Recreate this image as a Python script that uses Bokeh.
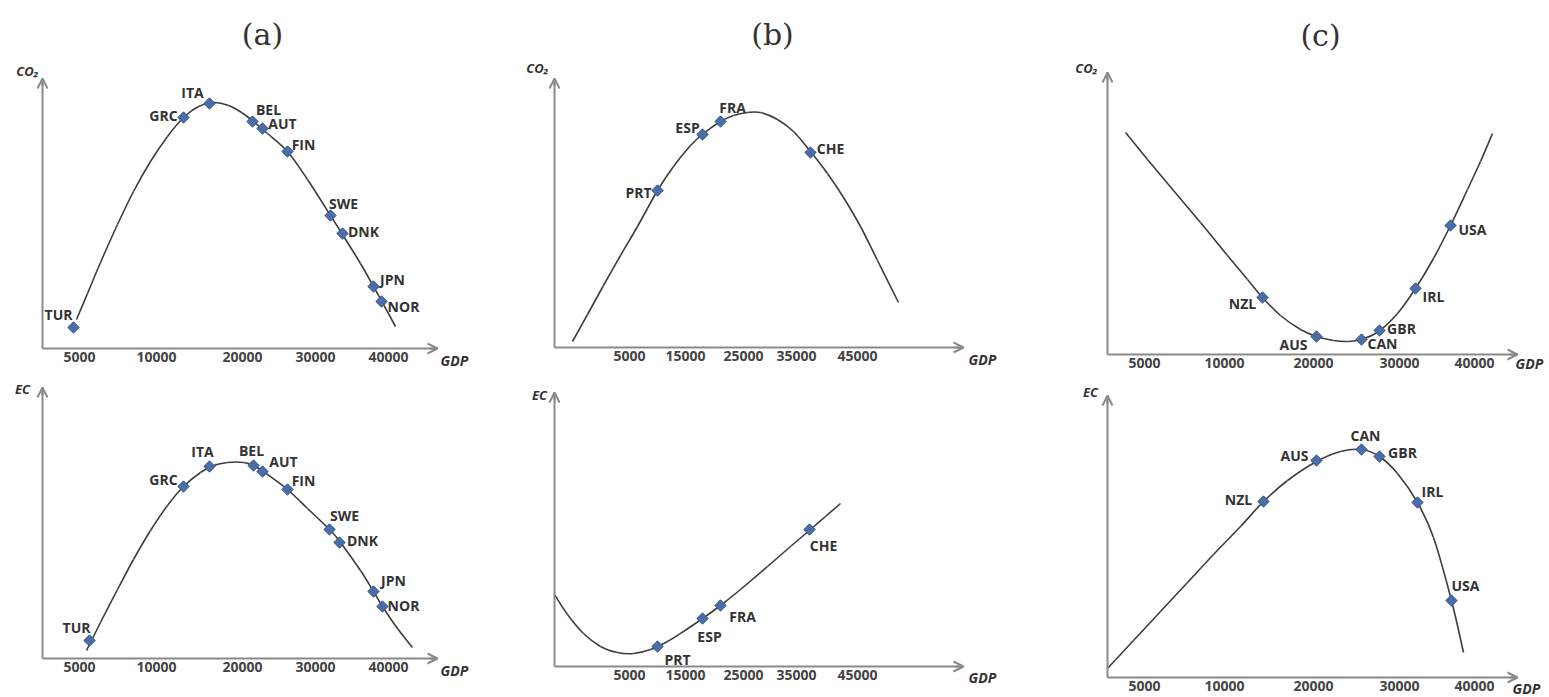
import math
from bokeh.plotting import figure
from bokeh.layouts import row, column
from bokeh.models import Range1d, FixedTicker, Label, Arrow, OpenHead, ColumnDataSource
from bokeh.core.properties import value
from bokeh.embed import file_html
from bokeh.resources import INLINE

# ---------------- DATA (schematic axis units) ----------------
# Panel (a)
a_countries = ["TUR", "GRC", "ITA", "BEL", "AUT", "FIN", "SWE", "DNK", "JPN", "NOR"]
a_tick_pos = [37, 114, 200, 273, 346]
a_tick_labels = ["5000", "10000", "20000", "30000", "40000"]

a_co2_curve_x = [34, 45, 58, 75, 91, 108, 125, 141, 156, 171, 186, 199, 211, 225, 245, 265, 288, 300, 318, 331, 341, 353]
a_co2_curve_y = [29, 55, 86, 124, 157, 187, 212, 231, 242, 246, 243, 236, 227, 215, 197, 169, 133, 114, 85, 62, 44, 22]
a_co2_x = [31, 141, 167, 210, 220, 245, 288, 300, 331, 339]
a_co2_y = [21, 231, 245, 227, 220, 197, 133, 115, 62, 47]

a_ec_curve_x = [44, 58, 75, 91, 108, 125, 141, 158, 171, 185, 201, 211, 225, 245, 265, 288, 298, 318, 331, 340, 355, 370]
a_ec_curve_y = [8, 36, 69, 99, 128, 153, 172, 186, 193, 196, 196, 193, 184, 169, 150, 128, 116, 88, 67, 52, 30, 11]
a_ec_x = [47, 141, 167, 211, 220, 245, 287, 297, 331, 340]
a_ec_y = [18, 172, 192, 193, 187, 169, 129, 116, 67, 52]

# Panel (b)
b_countries = ["PRT", "ESP", "FRA", "CHE"]
b_tick_pos = [75, 131, 189, 242, 303]
b_tick_labels = ["5000", "15000", "25000", "35000", "45000"]

b_co2_curve_x = [18, 33, 49, 66, 83, 103, 119, 136, 149, 166, 179, 193, 206, 223, 239, 256, 273, 289, 306, 323, 344]
b_co2_curve_y = [6, 33, 62, 92, 121, 157, 181, 202, 214, 226, 232, 235, 235, 228, 216, 196, 174, 150, 121, 87, 45]
b_co2_x = [103, 148, 166, 256]
b_co2_y = [157, 213, 226, 195]

b_ec_curve_x = [0, 13, 29, 46, 63, 79, 96, 113, 129, 148, 166, 186, 213, 236, 256, 271, 286]
b_ec_curve_y = [72, 52, 33, 20, 14, 13, 17, 25, 35, 48, 61, 77, 100, 120, 137, 150, 163]
b_ec_x = [103, 148, 166, 255]
b_ec_y = [20, 48, 61, 137]

# Panel (c)
c_countries = ["NZL", "AUS", "CAN", "GBR", "IRL", "USA"]
c_tick_pos = [37, 117, 206, 292, 367]
c_tick_labels = ["5000", "10000", "20000", "30000", "40000"]

c_co2_curve_x = [18, 40, 66, 93, 120, 140, 155, 173, 193, 209, 226, 240, 254, 271, 290, 308, 326, 343, 360, 373, 385]
c_co2_curve_y = [222, 195, 164, 132, 99, 75, 57, 39, 25, 18, 14, 13, 15, 23, 41, 66, 96, 129, 165, 193, 221]
c_co2_x = [155, 209, 254, 272, 308, 343]
c_co2_y = [57, 18, 15, 24, 66, 129]

c_ec_curve_x = [0, 26, 53, 80, 106, 133, 156, 180, 209, 233, 254, 272, 290, 310, 326, 344, 356]
c_ec_curve_y = [9, 37, 66, 95, 123, 151, 176, 197, 216, 226, 228, 221, 204, 175, 140, 77, 25]
c_ec_x = [156, 209, 254, 272, 310, 344]
c_ec_y = [176, 217, 228, 221, 175, 77]

# label offsets from their markers (screen px, x right / y down)
a_co2_dx = [-15, -20, -17, 16, 20, 16, 13, 21, 19, 22]
a_co2_dy = [-13, -2, -11, -12, -5, -7, -12, -2, -7, 5]
a_ec_dx = [-13, -20, -7, -2, 21, 16, 15, 23, 20, 21]
a_ec_dy = [-13, -7, -15, -15, -10, -9, -14, -2, -11, -1]
b_co2_dx = [-19, -15, 12, 20]
b_co2_dy = [2, -7, -14, -4]
b_ec_dx = [20, 7, 22, 14]
b_ec_dy = [13, 18, 11, 16]
c_co2_dx = [-20, -23, 21, 22, 18, 22]
c_co2_dy = [6, 8, 4, -2, 8, 4]
c_ec_dx = [-25, -22, 4, 23, 15, 14]
c_ec_dy = [-2, -5, -14, -4, -11, -15]

# ---------------- STYLE ----------------
AXIS_COLOR = "#8a8a8a"
CURVE_COLOR = "#3d3d3d"
MARK_FILL = "#4a6ea9"
MARK_LINE = "#34558c"
TEXT_COLOR = "#333333"
FONT = "Open Sans"


def bezier_segments(xs, ys):
    """Catmull-Rom style smooth rendering through the read points."""
    n = len(xs)
    out = dict(x0=[], y0=[], x1=[], y1=[], cx0=[], cy0=[], cx1=[], cy1=[])
    for i in range(n - 1):
        xp, yp = (xs[i - 1], ys[i - 1]) if i > 0 else (xs[i], ys[i])
        xn, yn = (xs[i + 2], ys[i + 2]) if i + 2 < n else (xs[i + 1], ys[i + 1])
        out["x0"].append(xs[i]); out["y0"].append(ys[i])
        out["x1"].append(xs[i + 1]); out["y1"].append(ys[i + 1])
        out["cx0"].append(xs[i] + (xs[i + 1] - xp) / 6.0)
        out["cy0"].append(ys[i] + (ys[i + 1] - yp) / 6.0)
        out["cx1"].append(xs[i + 1] - (xn - xs[i]) / 6.0)
        out["cy1"].append(ys[i + 1] - (yn - ys[i]) / 6.0)
    return out


def panel(W, H, ox, oy, fw, fh, curve_x, curve_y, px, py, names, dx, dy,
          tick_pos, tick_labels, ylab, ylab_xy, gdp_xy, title=None, title_xy=None):
    p = figure(width=W, height=H, x_range=Range1d(-ox, W - ox), y_range=Range1d(oy - H, oy),
               min_border=0, min_border_left=0, min_border_right=0, min_border_top=0,
               min_border_bottom=0, output_backend="svg", toolbar_location=None)
    p.outline_line_color = None
    p.grid.visible = False
    p.background_fill_color = "white"
    p.border_fill_color = "white"

    xa = p.xaxis[0]
    xa.fixed_location = 0
    xa.bounds = (0, fw)
    xa.ticker = FixedTicker(ticks=tick_pos)
    xa.major_label_overrides = {t: l for t, l in zip(tick_pos, tick_labels)}
    xa.major_tick_line_color = None
    xa.minor_tick_line_color = None
    xa.major_tick_out = 0
    xa.major_tick_in = 0
    xa.major_label_standoff = 3
    xa.axis_line_color = AXIS_COLOR
    xa.axis_line_width = 2
    xa.major_label_text_font = FONT
    xa.major_label_text_font_size = "14px"
    xa.major_label_text_font_style = "bold"
    xa.major_label_text_color = "#444444"

    ya = p.yaxis[0]
    ya.fixed_location = 0
    ya.bounds = (0, fh)
    ya.ticker = FixedTicker(ticks=[])
    ya.major_tick_line_color = None
    ya.minor_tick_line_color = None
    ya.major_label_text_font_size = "0px"
    ya.axis_line_color = AXIS_COLOR
    ya.axis_line_width = 2

    # arrow heads
    p.add_layout(Arrow(end=OpenHead(size=10, line_color=AXIS_COLOR, line_width=2),
                       x_start=fw - 8, y_start=0, x_end=fw, y_end=0,
                       line_color=AXIS_COLOR, line_width=2))
    p.add_layout(Arrow(end=OpenHead(size=10, line_color=AXIS_COLOR, line_width=2),
                       x_start=0, y_start=fh - 8, x_end=0, y_end=fh,
                       line_color=AXIS_COLOR, line_width=2))

    seg = bezier_segments(curve_x, curve_y)
    p.bezier(x0=seg["x0"], y0=seg["y0"], x1=seg["x1"], y1=seg["y1"],
             cx0=seg["cx0"], cy0=seg["cy0"], cx1=seg["cx1"], cy1=seg["cy1"],
             line_color=CURVE_COLOR, line_width=1.6)
    p.scatter(px, py, marker="square", angle=math.pi / 4, size=8, fill_color=MARK_FILL,
              line_color=MARK_LINE, line_width=1)
    src = ColumnDataSource(dict(x=px, y=py, t=names, dx=dx, dy=dy))
    p.text(x="x", y="y", text="t", x_offset="dx", y_offset="dy", source=src,
           text_align="center", text_baseline="middle", text_font=value(FONT),
           text_font_size="14px", text_font_style="bold", text_color=TEXT_COLOR)

    p.add_layout(Label(x=ylab_xy[0], y=ylab_xy[1], text=ylab, text_align="center",
                       text_baseline="middle", text_font=FONT, text_font_size="13px",
                       text_font_style="bold italic", text_color="#333333"))
    p.add_layout(Label(x=gdp_xy[0], y=gdp_xy[1], text="GDP", text_align="left",
                       text_baseline="middle", text_font=FONT, text_font_size="14px",
                       text_font_style="bold italic", text_color="#333333"))
    if title:
        p.add_layout(Label(x=title_xy[0], y=title_xy[1], text=title, text_align="center",
                           text_baseline="middle", text_font="DejaVu Serif",
                           text_font_size="30px", text_color="#333333"))
    return p


pa1 = panel(500, 375, 42, 348, 395, 270, a_co2_curve_x, a_co2_curve_y, a_co2_x, a_co2_y,
            a_countries, a_co2_dx, a_co2_dy, a_tick_pos, a_tick_labels,
            "CO₂", (-15, 278), (398, -12), "(a)", (220, 314))
pb1 = panel(540, 375, 54, 347, 409, 269, b_co2_curve_x, b_co2_curve_y, b_co2_x, b_co2_y,
            b_countries, b_co2_dx, b_co2_dy, b_tick_pos, b_tick_labels,
            "CO₂", (-17, 280), (414, -12), "(b)", (218, 313))
pc1 = panel(509, 375, 67, 354, 410, 282, c_co2_curve_x, c_co2_curve_y, c_co2_x, c_co2_y,
            c_countries, c_co2_dx, c_co2_dy, c_tick_pos, c_tick_labels,
            "CO₂", (-21, 287), (408, -9), "(c)", (213, 319))

pa2 = panel(500, 322, 42, 283, 395, 271, a_ec_curve_x, a_ec_curve_y, a_ec_x, a_ec_y,
            a_countries, a_ec_dx, a_ec_dy, a_tick_pos, a_tick_labels,
            "EC", (-20, 270), (398, -12))
pb2 = panel(540, 322, 54, 291, 409, 274, b_ec_curve_x, b_ec_curve_y, b_ec_x, b_ec_y,
            b_countries, b_ec_dx, b_ec_dy, b_tick_pos, b_tick_labels,
            "EC", (-15, 272), (414, -11))
pc2 = panel(509, 322, 67, 302, 410, 282, c_ec_curve_x, c_ec_curve_y, c_ec_x, c_ec_y,
            c_countries, c_ec_dx, c_ec_dy, c_tick_pos, c_tick_labels,
            "EC", (-17, 286), (405, -11))

layout = column(row(pa1, pb1, pc1, spacing=0), row(pa2, pb2, pc2, spacing=0), spacing=0)

open("out.html", "w").write(file_html(layout, INLINE))
